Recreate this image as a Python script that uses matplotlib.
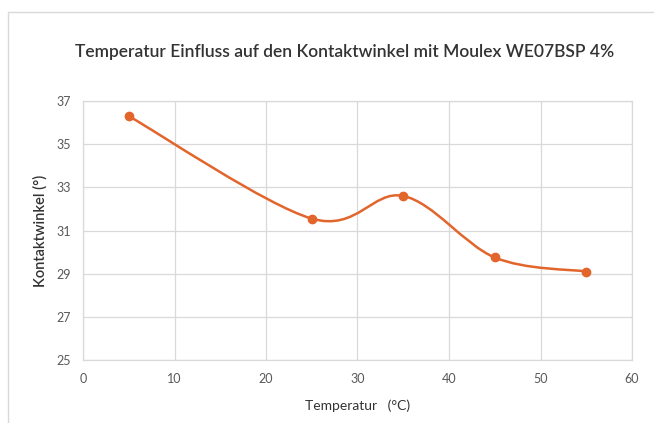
import numpy as np
import matplotlib
matplotlib.use("Agg")
import matplotlib.pyplot as plt
from matplotlib.path import Path
from matplotlib.patches import PathPatch, Rectangle

temps = [5, 25, 35, 45, 55]
angles = [36.3, 31.55, 32.6, 29.75, 29.1]
x_ticks = [0, 10, 20, 30, 40, 50, 60]
y_ticks = [25, 27, 29, 31, 33, 35, 37]
title = "Temperatur Einfluss auf den Kontaktwinkel mit Moulex WE07BSP 4%"
xlabel = "Temperatur   (°C)"
ylabel = "Kontaktwinkel (°)"

plt.rcParams['font.family'] = ['Lato', 'DejaVu Sans']
color = '#E2652C'
txt = '#333333'

fig = plt.figure(figsize=(6.54, 4.23), dpi=100)
fig.patch.set_facecolor('white')
# outer chart frame
fig.patches.append(Rectangle((8/654, -0.05), 1.0, 1 - 12/423 + 0.05, transform=fig.transFigure,
                             fill=False, edgecolor='#d9d9d9', linewidth=1.0))

ax = fig.add_axes([83/654, 1 - 360/423, (632 - 83)/654, (360 - 101)/423])
ax.set_xlim(0, 60)
ax.set_ylim(25, 37)
ax.set_xticks(x_ticks)
ax.set_yticks(y_ticks)
ax.grid(True, color='#d9d9d9', linewidth=0.9)
ax.set_axisbelow(True)
for s in ax.spines.values():
    s.set_color('#d9d9d9')
    s.set_linewidth(0.9)
ax.tick_params(length=0, colors='#595959', labelsize=9, pad=9)

# Excel-style smoothed line via Bezier segments (Catmull-Rom control points)
pts = np.column_stack([temps, angles]).astype(float)
verts = [tuple(pts[0])]
codes = [Path.MOVETO]
n = len(pts)
for i in range(n - 1):
    p0 = pts[i - 1] if i > 0 else pts[i]
    p1 = pts[i]
    p2 = pts[i + 1]
    p3 = pts[i + 2] if i + 2 < n else pts[i + 1]
    c1 = p1 + (p2 - p0) / 6.0
    c2 = p2 - (p3 - p1) / 6.0
    verts += [tuple(c1), tuple(c2), tuple(p2)]
    codes += [Path.CURVE4] * 3
ax.add_patch(PathPatch(Path(verts, codes), fill=False, edgecolor=color, linewidth=1.8, zorder=3))
ax.plot(temps, angles, 'o', color=color, markersize=6, zorder=4)

fig.text(345/654, 1 - 52/423, title, ha='center', va='center', fontsize=12.5,
         color=txt, fontweight='semibold')
fig.text(358/654, 1 - 406/423, xlabel, ha='center', va='center', fontsize=10, color=txt)
fig.text(40/654, 1 - 231/423, ylabel, ha='center', va='center', fontsize=10.5, color=txt,
         rotation=90, fontweight='semibold')

fig.savefig('out.png', dpi=100)
